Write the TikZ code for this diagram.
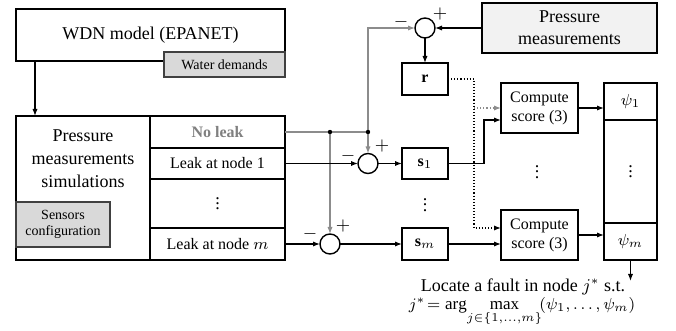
\documentclass[tikz,border=0pt]{standalone}
\usepackage{fontspec}
\setmainfont{Liberation Serif}
\usetikzlibrary{arrows.meta}
\newcommand{\ptsv}{\vbox{\baselineskip=2.6pt\lineskiplimit=-10pt\hbox{.}\hbox{.}\hbox{.}}}

\begin{document}
\begin{tikzpicture}[x=0.5pt,y=-0.5pt,
bloc/.style={draw,line width=0.7pt,inner sep=1pt,outer sep=0pt,align=center,font=\fontsize{8}{9.5}\selectfont},
gris/.style={bloc,draw=black!75,fill=black!15,font=\fontsize{7}{8}\selectfont},
somme/.style={draw,circle,line width=0.7pt,minimum size=10pt,inner sep=0pt,outer sep=0pt},
signe/.style={inner sep=0pt,font=\fontsize{9}{9}\selectfont},
fleche/.style={-{Latex[length=3.5pt,width=2.6pt]},line width=0.55pt},
pointille/.style={fleche,densely dotted}]
\definecolor{trait}{RGB}{140,140,140}
\useasboundingbox (0,0) rectangle (676,331);
\node[bloc,minimum width=134.5pt,minimum height=26pt,font=\fontsize{9}{11}\selectfont] (wdn) at (150.5,35) {WDN model (EPANET)};
\node[gris,minimum width=60.5pt,minimum height=12.5pt] (demandes) at (224.5,64.5) {Water demands};
\node[bloc,minimum width=67pt,minimum height=72pt] (sim) at (83,188) {};
\node[align=center,font=\fontsize{9}{11.5}\selectfont] (simtxt) at (83,159) {Pressure\\measurements\\simulations};
\node[gris,minimum width=47pt,minimum height=22.5pt] (capteurs) at (63,224.5) {Sensors\\configuration};
\node[bloc,minimum width=67.5pt,minimum height=16pt,text=black!50,font=\bfseries\fontsize{8}{9.5}\selectfont] (sansfuite) at (217.5,132) {No leak};
\node[bloc,minimum width=67.5pt,minimum height=15.5pt] (fuite1) at (217.5,163.5) {Leak at node 1};
\node[bloc,minimum width=67.5pt,minimum height=24.5pt,font=\fontsize{9}{9}\selectfont] (fuitepts) at (217.5,203.5) {\ptsv};
\node[bloc,minimum width=67.5pt,minimum height=16pt] (fuitem) at (217.5,244) {Leak at node $m$};
\node[bloc,fill=black!5,minimum width=87.5pt,minimum height=25pt,font=\fontsize{9}{11}\selectfont] (pm) at (569.5,28) {Pressure\\measurements};
\node[somme] (c0) at (425,28) {};
\node[somme] (c1) at (368,163.5) {};
\node[somme] (c2) at (330,244) {};
\node[signe] (moins0) at (401,22) {$-$};
\node[signe] (plus0) at (440,14) {$+$};
\node[signe] (moins1) at (348,156) {$-$};
\node[signe] (plus1) at (382,146) {$+$};
\node[signe] (moins2) at (310,234) {$-$};
\node[signe] (plus2) at (343,226) {$+$};
\node[bloc,minimum width=23pt,minimum height=16pt] (r) at (425,79) {$\mathbf{r}$};
\node[bloc,minimum width=23pt,minimum height=15.5pt] (s1) at (425,163.5) {$\mathbf{s}_1$};
\node[font=\fontsize{9}{9}\selectfont] (spts) at (425,205) {\ptsv};
\node[bloc,minimum width=23pt,minimum height=16pt] (sm) at (425,244) {$\mathbf{s}_m$};
\node[bloc,minimum width=38.5pt,minimum height=25pt] (cs1) at (539.5,108) {Compute\\score (3)};
\node[font=\fontsize{9}{9}\selectfont] (cspts) at (537,172) {\ptsv};
\node[bloc,minimum width=38.5pt,minimum height=25pt] (cs2) at (539.5,235) {Compute\\score (3)};
\node[bloc,minimum width=26.5pt,minimum height=18.5pt] (psi1) at (630.5,101.5) {$\psi_1$};
\node[bloc,minimum width=26.5pt,minimum height=51.5pt,font=\fontsize{9}{9}\selectfont] (psipts) at (630.5,171.5) {\ptsv};
\node[bloc,minimum width=26.5pt,minimum height=18.5pt] (psim) at (630.5,241.5) {$\psi_m$};
\node[font=\fontsize{9}{11}\selectfont] (localise) at (523,287) {Locate a fault in node $j^*$ s.t.};
\node[font=\fontsize{8.5}{10}\selectfont] (argmax) at (522,312) {$j^*\!=\arg\!\max\limits_{j\in\{1,\ldots,m\}}\!(\psi_1,\ldots,\psi_m)$};
\coordinate (jA) at (c2 |- sansfuite.east);
\coordinate (jB) at (c1 |- sansfuite.east);
\coordinate (fin) at (631,281);
\draw[fleche] ([xshift=9.5pt]wdn.south west) -- ([xshift=9.5pt]sim.north west);
\draw[trait,line width=0.55pt] (sansfuite.east) -- (jB);
\draw[fleche,trait] (jB) |- (c0.west);
\draw[fleche,trait] (jB) -- (c1.north);
\draw[fleche,trait] (jA) -- (c2.north);
\fill (jA) circle (1.1pt) (jB) circle (1.1pt);
\draw[fleche] (pm.west) -- (c0.east);
\draw[fleche] (c0.south) -- (r.north);
\draw[fleche] (fuite1.east) -- (c1.west);
\draw[fleche] (fuitem.east) -- (c2.west);
\draw[fleche] (c1.east) -- (s1.west);
\draw[fleche] (c2.east) -- (sm.west);
\draw[fleche] (s1.east) -- ++(36,0) |- ([yshift=-6pt]cs1.west);
\draw[fleche] (sm.east) -- (sm.east -| cs2.west);
\draw[pointille] (r.east) -- ++(26,0) coordinate (rj) |- ([yshift=3.5pt]cs2.west);
\draw[pointille,trait] (rj |- cs1.west) -- (cs1.west);
\draw[fleche] (cs1.east) -- (cs1.east -| psi1.west);
\draw[fleche] (cs2.east) -- (cs2.east -| psim.west);
\draw[fleche] (psim.south) -- (psim.south |- fin);
\end{tikzpicture}
\end{document}
